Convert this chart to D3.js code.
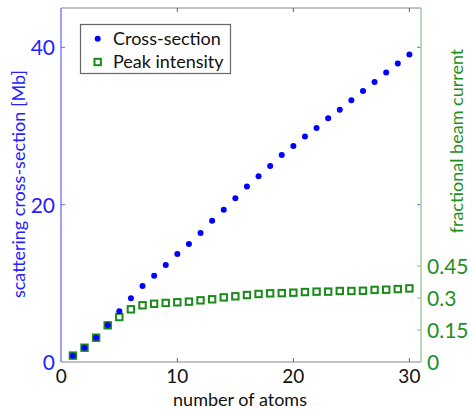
<!DOCTYPE html>
<html>
<head>
<meta charset="utf-8">
<script src="https://cdn.jsdelivr.net/npm/d3@7"></script>
<style>
body { margin: 0; background: #fff; }
text { font-family: Lato, "Open Sans", sans-serif; }
</style>
</head>
<body>
<script>
var width = 470,
	height = 410;

// data
var atoms = [1,2,3,4,5,6,7,8,9,10,11,12,13,14,15,16,17,18,19,20,21,22,23,24,25,26,27,28,29,30];
var crossSection = [0.8,1.82,3.09,4.66,6.44,8.1,9.66,10.97,12.33,13.73,15.0,16.4,17.97,19.36,20.8,22.3,23.6,24.9,26.3,27.46,28.65,29.75,31.0,32.08,33.27,34.46,35.6,36.8,37.93,39.1];
var peakIntensity = [0.03,0.067,0.114,0.172,0.211,0.247,0.266,0.273,0.277,0.28,0.283,0.289,0.294,0.303,0.308,0.314,0.319,0.322,0.323,0.325,0.328,0.33,0.33,0.333,0.333,0.334,0.338,0.339,0.342,0.345];
var xTicks = [0,10,20,30],
	leftTicks = [0,20,40],
	rightTicks = [0,0.15,0.3,0.45],
	rightTickLabels = ["0","0.15","0.3","0.45"];

var blue = "#0000ff",
	blueText = "#2222ff",
	green = "#1a8a1a",
	greenText = "#1f8f1f";

var pLeft = 61, pRight = 421, pTop = 8, pBottom = 362;

var svg = d3.select("body")
		.append("svg")
		.attr("width", width)
		.attr("height", height);

var x = d3.scaleLinear().domain([0, 31]).range([pLeft + 0.3, pRight]);
var yL = d3.scaleLinear().domain([0, 45]).range([pBottom, pTop]);
var yR = d3.scaleLinear().domain([0, 1.66]).range([pBottom, pTop]);

// frame: top and bottom grey
svg.append("line").attr("x1", pLeft).attr("x2", pRight).attr("y1", pTop).attr("y2", pTop)
	.attr("stroke", "#888").attr("stroke-width", 1.2);
svg.append("line").attr("x1", pLeft).attr("x2", pRight).attr("y1", pBottom).attr("y2", pBottom)
	.attr("stroke", "#888").attr("stroke-width", 1.2);

// x ticks bottom and top (inward)
xTicks.forEach(function (t) {
	if (t === 0) return;
	svg.append("line").attr("x1", x(t)).attr("x2", x(t)).attr("y1", pBottom).attr("y2", pBottom - 4)
		.attr("stroke", "#666");
	svg.append("line").attr("x1", x(t)).attr("x2", x(t)).attr("y1", pTop).attr("y2", pTop + 4)
		.attr("stroke", "#666");
});
svg.selectAll("text.xt").data(xTicks).enter().append("text")
	.attr("class", "xt")
	.attr("x", function (d) { return x(d); })
	.attr("y", pBottom + 21)
	.attr("text-anchor", "middle")
	.attr("font-size", 19)
	.attr("fill", "#111")
	.text(function (d) { return d; });

// left axis (blue)
svg.append("line").attr("x1", pLeft).attr("x2", pLeft).attr("y1", pTop).attr("y2", pBottom)
	.attr("stroke", "#6a6aff").attr("stroke-width", 1.3);
leftTicks.forEach(function (t) {
	if (t === 0) return;
	svg.append("line").attr("x1", pLeft).attr("x2", pLeft + 4).attr("y1", yL(t)).attr("y2", yL(t))
		.attr("stroke", "#6a6aff");
	svg.append("line").attr("x1", pRight).attr("x2", pRight - 4).attr("y1", yL(t)).attr("y2", yL(t))
		.attr("stroke", "#6a6aff");
});
svg.selectAll("text.yl").data(leftTicks).enter().append("text")
	.attr("class", "yl")
	.attr("x", pLeft - 6)
	.attr("y", function (d) { return yL(d) + 8; })
	.attr("text-anchor", "end")
	.attr("font-size", 21)
	.attr("fill", blueText)
	.text(function (d) { return d; });
svg.append("text")
	.attr("transform", "translate(25," + 184 + ") rotate(-90)")
	.attr("text-anchor", "middle")
	.attr("font-size", 18)
	.attr("fill", blueText)
	.text("scattering cross-section [Mb]");

// right axis (green)
svg.append("line").attr("x1", pRight).attr("x2", pRight).attr("y1", pTop).attr("y2", pBottom)
	.attr("stroke", "#9fd09f").attr("stroke-width", 1.5);
rightTicks.forEach(function (t) {
	if (t === 0) return;
	svg.append("line").attr("x1", pRight).attr("x2", pRight - 4).attr("y1", yR(t)).attr("y2", yR(t))
		.attr("stroke", "#7fbf7f");
});
svg.selectAll("text.yr").data(rightTicks).enter().append("text")
	.attr("class", "yr")
	.attr("x", pRight + 6)
	.attr("y", function (d) { return yR(d) + 8; })
	.attr("font-size", 21)
	.attr("fill", greenText)
	.text(function (d, i) { return rightTickLabels[i]; });
svg.append("text")
	.attr("transform", "translate(463," + 141 + ") rotate(-90)")
	.attr("text-anchor", "middle")
	.attr("font-size", 18)
	.attr("fill", greenText)
	.text("fractional beam current");

// x label
svg.append("text")
	.attr("x", 240)
	.attr("y", 406)
	.attr("text-anchor", "middle")
	.attr("font-size", 18)
	.attr("fill", "#111")
	.text("number of atoms");

// peak intensity squares
svg.selectAll("rect.pk").data(atoms).enter().append("rect")
	.attr("class", "pk")
	.attr("x", function (d) { return x(d) - 3.2; })
	.attr("y", function (d, i) { return yR(peakIntensity[i]) - 3.2; })
	.attr("width", 6.4)
	.attr("height", 6.4)
	.attr("fill", "none")
	.attr("stroke", green)
	.attr("stroke-width", 2);

// cross-section dots
svg.selectAll("circle.cs").data(atoms).enter().append("circle")
	.attr("class", "cs")
	.attr("cx", function (d) { return x(d); })
	.attr("cy", function (d, i) { return yL(crossSection[i]); })
	.attr("r", 3)
	.attr("fill", blue);

// legend
var lg = svg.append("g");
lg.append("rect").attr("x", 80.5).attr("y", 24.5).attr("width", 150).attr("height", 49)
	.attr("fill", "#fff").attr("stroke", "#666").attr("stroke-width", 1.2);
lg.append("circle").attr("cx", 97.7).attr("cy", 38.7).attr("r", 3).attr("fill", blue);
lg.append("rect").attr("x", 94.5).attr("y", 58.8).attr("width", 6.4).attr("height", 6.4)
	.attr("fill", "none").attr("stroke", green).attr("stroke-width", 2);
lg.append("text").attr("x", 113).attr("y", 44.5).attr("font-size", 18).attr("fill", "#111")
	.text("Cross-section");
lg.append("text").attr("x", 113).attr("y", 67.5).attr("font-size", 18).attr("fill", "#111")
	.text("Peak intensity");
</script>
</body>
</html>
